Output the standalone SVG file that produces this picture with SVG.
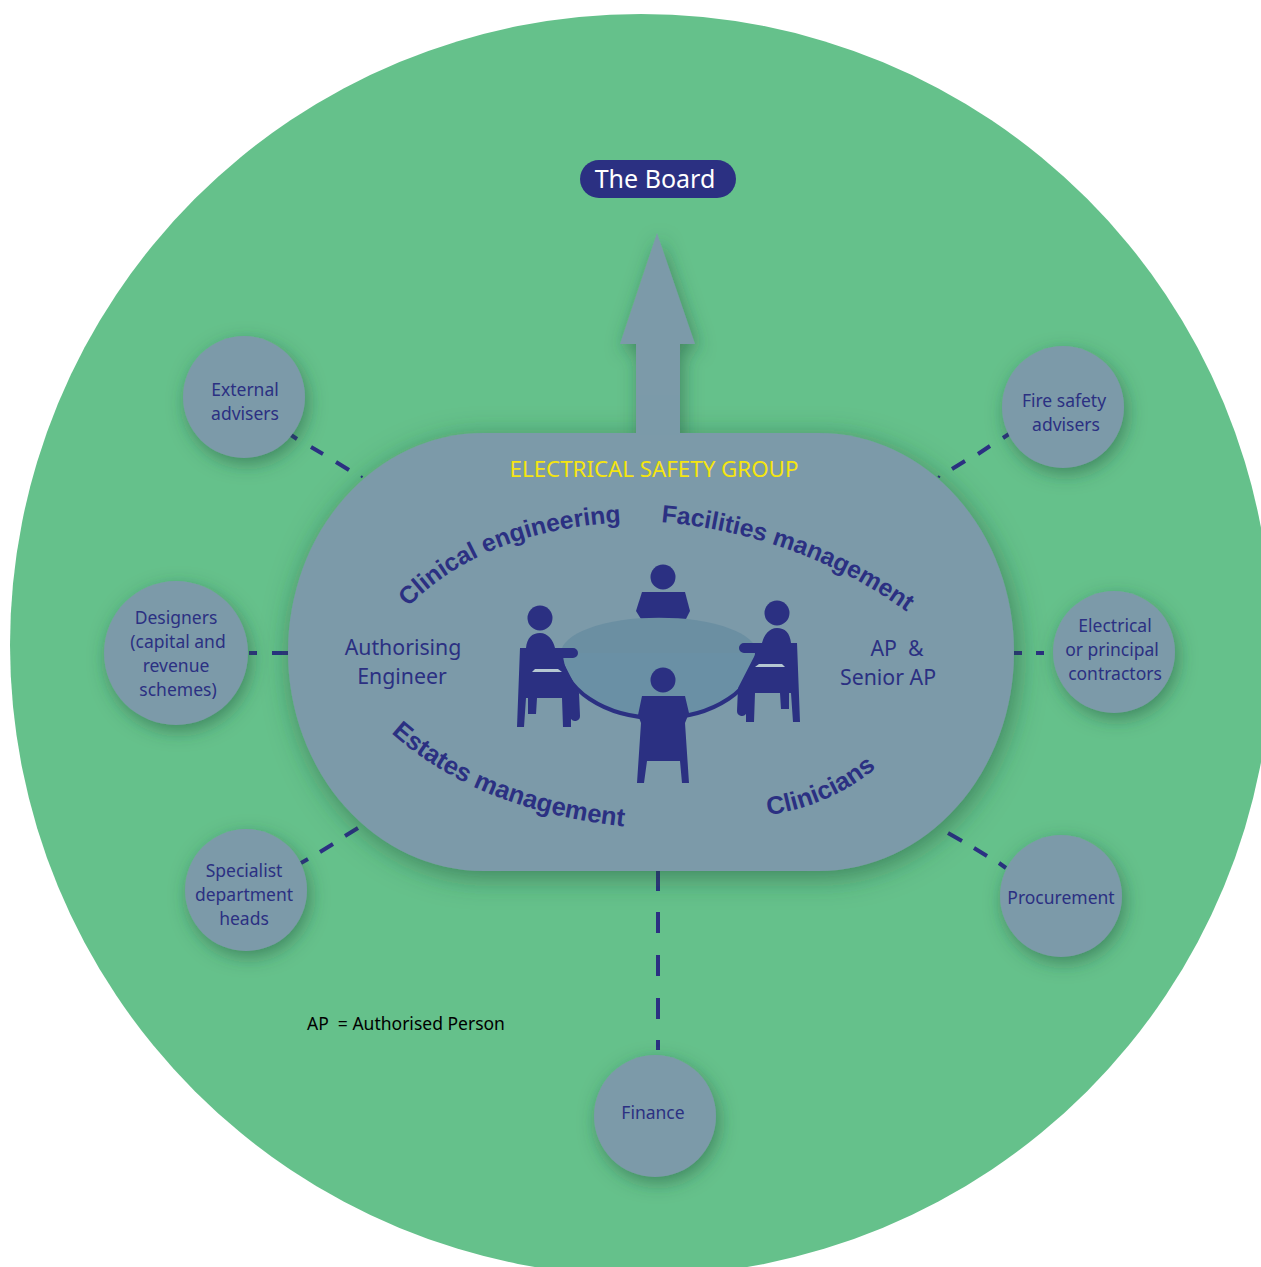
<svg xmlns="http://www.w3.org/2000/svg" width="1261" height="1267" viewBox="0 0 1261 1267">
<style>
.sat{fill:#7b9aa9;filter:url(#sh)}
.t{font-family:"Noto Sans","Open Sans",sans-serif;fill:#2b3082;text-anchor:middle;white-space:pre}
.s{font-size:17.5px}
.m{font-size:21.3px}
.c{font-family:"Liberation Sans",Arial,sans-serif;font-weight:bold;font-size:24.7px;fill:#2b3082}
.n{fill:#2b3082}
.d{stroke:#2b3082;stroke-width:4;fill:none}
</style>
<defs>
<filter id="sh" x="-30%" y="-30%" width="160%" height="160%"><feDropShadow dx="3" dy="6" stdDeviation="9" flood-color="#1f4f38" flood-opacity="0.5"/></filter>
<filter id="shb" x="-15%" y="-20%" width="130%" height="140%"><feDropShadow dx="3" dy="6" stdDeviation="14" flood-color="#1f4f38" flood-opacity="0.55"/></filter>
<path id="p1" d="M408,607 Q484,530 624,522"/>
<path id="p2" d="M661,522 Q805,535 915,618"/>
<path id="p3" d="M391,733 Q480,812 630,827"/>
<path id="p4" d="M768,815 Q833,806 882,763"/>
<g id="person">
<circle cx="540" cy="618" r="12.5"/>
<path d="M520,648H526C527,638 532,633 540,633C548,633 553,640 555,648H573A5,5 0 0 1 573,658H561L579,693L580,716A5,5 0 0 1 571,719V727H563L562,698H526L524,727H517Z"/>
<path d="M528,698H537L536,714H528Z"/>
</g>
</defs>
<rect width="1261" height="1267" fill="#fff"/>
<circle cx="641" cy="645" r="631" fill="#65c18b"/>
<g id="connectors" class="d">
<path d="M291,435L297,439M311,447L323,454M336,462L349,470"/>
<path d="M361,477.500L362.500,476" stroke-width="2"/>
<path d="M1009,434L1003,438M990,446L978,454M965,461L952,469"/>
<path d="M938,476L940,477.500" stroke-width="2"/>
<path d="M249,653H257M272,653H288"/>
<path d="M1014,653H1022M1036,653H1044"/>
<path d="M301,863L308,859M320,852L333,844M345,836L358,828"/>
<path d="M948,833L962,841M974,848L987,856M999,863L1006,868"/>
<path d="M658,871V891M658,912V933M658,955V976M658,998V1019M658,1040V1050"/>
</g>
<g id="arrow"><polygon points="657,233 695,344 680,344 680,440 636,440 636,344 620,344" fill="#7b9aa9" filter="url(#sh)"/></g>
<g id="group">
<rect x="288" y="433" width="726" height="438" rx="195" ry="219" fill="#7b9aa9" filter="url(#shb)"/>
<rect x="636" y="395" width="44" height="40" fill="#7b9aa9"/>
<text x="654" y="477" class="t" style="font-size:22.3px;fill:#f5e50f">ELECTRICAL SAFETY GROUP</text>
<text class="c"><textPath href="#p1">Clinical engineering</textPath></text>
<text class="c"><textPath href="#p2">Facilities management</textPath></text>
<text class="c" style="font-size:25.500px"><textPath href="#p3">Estates management</textPath></text>
<text class="c" style="font-size:25.300px"><textPath href="#p4">Clinicians</textPath></text>
<text class="t m"><tspan x="403" y="655">Authorising</tspan><tspan x="402" y="684">Engineer</tspan></text>
<text class="t m"><tspan x="897" y="656">AP  &amp;</tspan><tspan x="888" y="685">Senior AP</tspan></text>
</g>
<g id="table-people" class="n">
<circle cx="663" cy="577" r="12.5"/>
<polygon points="642,592 685,592 690,611 686,619 641,619 636,611"/>
<path d="M561,653A97,35 0 0 1 757,653Z" fill="#6b8fa2"/>
<path d="M561,653A98,65 0 0 0 757,653Z" fill="#6a90a5"/>
<path d="M561,653A98,65 0 0 0 757,653" fill="none" stroke="#2b3082" stroke-width="4"/>
<use href="#person"/>
<polygon points="535,669 558,669 562,672 532,672" fill="#b5c7d1"/>
<use href="#person" transform="translate(1317,-5) scale(-1,1)"/>
<polygon points="759,664 782,664 785,667 755,667" fill="#b5c7d1"/>
<circle cx="663" cy="680" r="12.5"/>
<polygon points="642,696 685,696 689,713 685,723 689,783 682,783 680,761 647,761 644,783 637,783 641,723 638,715"/>
</g>
<g id="board"><rect x="580" y="160" width="156" height="38" rx="19" fill="#2b3082"/><text x="655" y="188" class="t" style="font-size:25px;fill:#fff">The Board</text></g>
<g id="external"><circle class="sat" cx="244" cy="397" r="61"/><text class="t s"><tspan x="245" y="396">External</tspan><tspan x="245" y="420">advisers</tspan></text></g>
<g id="fire"><circle class="sat" cx="1063" cy="407" r="61"/><text class="t s"><tspan x="1064" y="407">Fire safety</tspan><tspan x="1066" y="431">advisers</tspan></text></g>
<g id="designers"><circle class="sat" cx="176" cy="653" r="72"/><text class="t s"><tspan x="176" y="624">Designers</tspan><tspan x="178" y="648">(capital and</tspan><tspan x="176" y="672">revenue</tspan><tspan x="178" y="696">schemes)</tspan></text></g>
<g id="electrical"><circle class="sat" cx="1114" cy="652" r="61"/><text class="t s"><tspan x="1115" y="632">Electrical</tspan><tspan x="1112" y="656">or principal</tspan><tspan x="1115" y="680">contractors</tspan></text></g>
<g id="specialist"><circle class="sat" cx="246" cy="890" r="61"/><text class="t s"><tspan x="244" y="877">Specialist</tspan><tspan x="244" y="901">department</tspan><tspan x="244" y="925">heads</tspan></text></g>
<g id="procurement"><circle class="sat" cx="1061" cy="896" r="61"/><text x="1061" y="904" class="t s">Procurement</text></g>
<g id="finance"><circle class="sat" cx="655" cy="1116" r="61"/><text x="653" y="1119" class="t s">Finance</text></g>
<text x="307" y="1030" style="font-family:'Noto Sans','Open Sans',sans-serif;font-size:17.5px;fill:#000;white-space:pre">AP  = Authorised Person</text>
</svg>
